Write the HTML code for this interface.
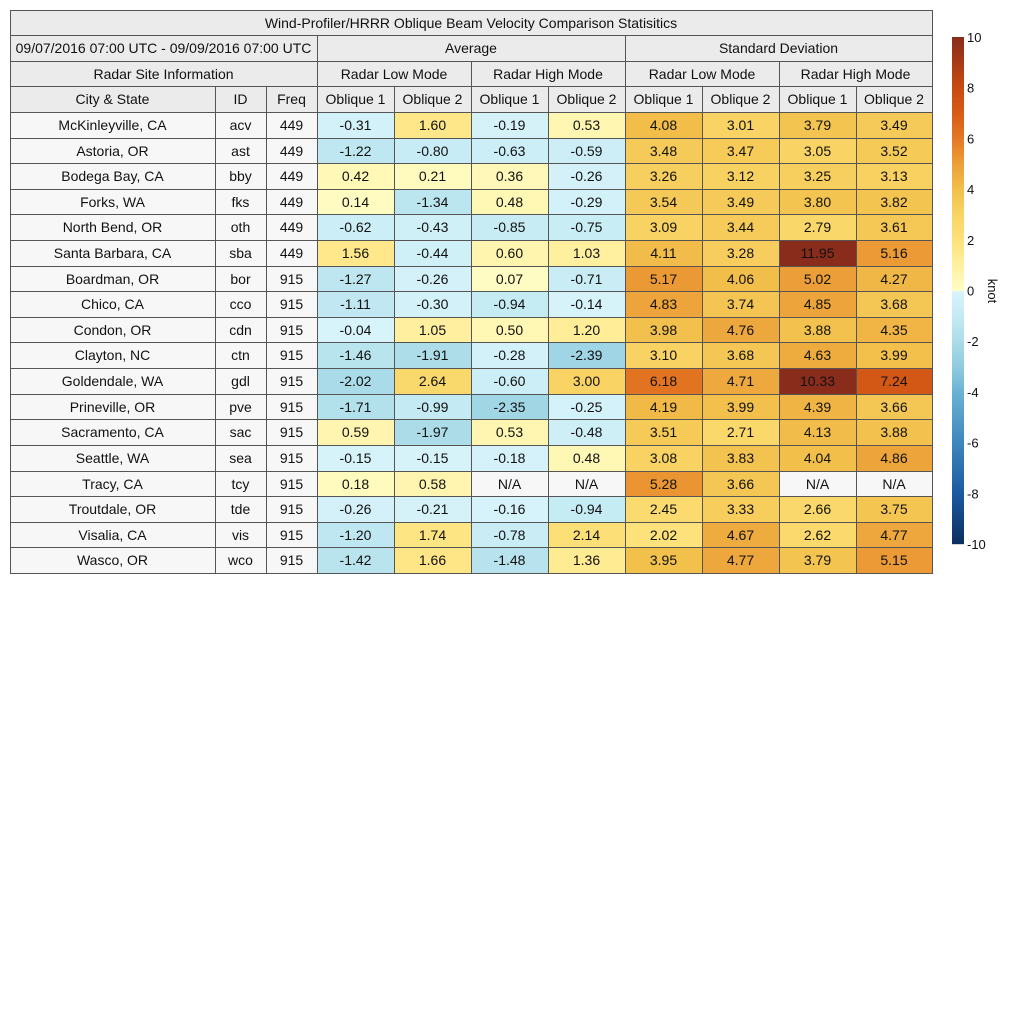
<!DOCTYPE html>
<html><head><meta charset="utf-8"><style>
body{margin:0;width:1024px;height:1024px;background:#fff;font-family:"Liberation Sans",sans-serif;position:relative;overflow:hidden}
.c{position:absolute;box-sizing:border-box;border:1px solid #555;display:flex;align-items:center;justify-content:center;font-size:14px;color:#111;margin:-0.5px 0 0 -0.5px}
.t{position:absolute;font-size:14px;color:#111}
</style></head><body>
<div id="root"></div>
<script>
const xs=[10,215,266,317,394,471,548,625,702,779,856,932];
const root=document.getElementById('root');
function cell(x0,x1,y0,y1,txt,bg){const d=document.createElement('div');d.className='c';d.style.left=x0+'px';d.style.top=y0+'px';d.style.width=(x1-x0+1)+'px';d.style.height=(y1-y0+1)+'px';d.style.background=bg;d.textContent=txt;root.appendChild(d);}
const H='#ebebeb';
cell(10,932,10,35,'Wind-Profiler/HRRR Oblique Beam Velocity Comparison Statisitics',H);
cell(10,317,35,61,'09/07/2016 07:00 UTC - 09/09/2016 07:00 UTC',H);
cell(317,625,35,61,'Average',H);cell(625,932,35,61,'Standard Deviation',H);
cell(10,317,61,86,'Radar Site Information',H);
['Radar Low Mode','Radar High Mode','Radar Low Mode','Radar High Mode'].forEach((s,i)=>cell(xs[3+2*i],xs[5+2*i],61,86,s,H));
['City & State','ID','Freq','Oblique 1','Oblique 2','Oblique 1','Oblique 2','Oblique 1','Oblique 2','Oblique 1','Oblique 2'].forEach((s,i)=>cell(xs[i],xs[i+1],86,112,s,H));
const data=[
['McKinleyville, CA','acv',449,-0.31,1.60,-0.19,0.53,4.08,3.01,3.79,3.49],
['Astoria, OR','ast',449,-1.22,-0.80,-0.63,-0.59,3.48,3.47,3.05,3.52],
['Bodega Bay, CA','bby',449,0.42,0.21,0.36,-0.26,3.26,3.12,3.25,3.13],
['Forks, WA','fks',449,0.14,-1.34,0.48,-0.29,3.54,3.49,3.80,3.82],
['North Bend, OR','oth',449,-0.62,-0.43,-0.85,-0.75,3.09,3.44,2.79,3.61],
['Santa Barbara, CA','sba',449,1.56,-0.44,0.60,1.03,4.11,3.28,11.95,5.16],
['Boardman, OR','bor',915,-1.27,-0.26,0.07,-0.71,5.17,4.06,5.02,4.27],
['Chico, CA','cco',915,-1.11,-0.30,-0.94,-0.14,4.83,3.74,4.85,3.68],
['Condon, OR','cdn',915,-0.04,1.05,0.50,1.20,3.98,4.76,3.88,4.35],
['Clayton, NC','ctn',915,-1.46,-1.91,-0.28,-2.39,3.10,3.68,4.63,3.99],
['Goldendale, WA','gdl',915,-2.02,2.64,-0.60,3.00,6.18,4.71,10.33,7.24],
['Prineville, OR','pve',915,-1.71,-0.99,-2.35,-0.25,4.19,3.99,4.39,3.66],
['Sacramento, CA','sac',915,0.59,-1.97,0.53,-0.48,3.51,2.71,4.13,3.88],
['Seattle, WA','sea',915,-0.15,-0.15,-0.18,0.48,3.08,3.83,4.04,4.86],
['Tracy, CA','tcy',915,0.18,0.58,null,null,5.28,3.66,null,null],
['Troutdale, OR','tde',915,-0.26,-0.21,-0.16,-0.94,2.45,3.33,2.66,3.75],
['Visalia, CA','vis',915,-1.20,1.74,-0.78,2.14,2.02,4.67,2.62,4.77],
['Wasco, OR','wco',915,-1.42,1.66,-1.48,1.36,3.95,4.77,3.79,5.15]];
const pos=[[0,[255,253,198]],[1,[255,240,160]],[2,[253,225,122]],[3,[249,212,100]],[4,[242,192,75]],[5,[236,160,56]],[6,[229,120,36]],[7,[214,92,22]],[8,[200,76,18]],[9,[168,58,22]],[10,[138,44,28]]];
const neg=[[0,[217,244,251]],[1,[196,234,243]],[2,[170,220,232]],[3,[143,203,222]],[4,[106,178,212]],[6,[61,134,189]],[8,[26,90,160]],[10,[11,46,94]]];
function col(v){if(v===null)return '#f7f7f7';const s=v<0?neg:pos;let a=Math.min(Math.abs(v),10);for(let i=0;i<s.length-1;i++){if(a<=s[i+1][0]){const f=(a-s[i][0])/(s[i+1][0]-s[i][0]);const c=s[i][1].map((q,k)=>Math.round(q+f*(s[i+1][1][k]-q)));return `rgb(${c})`;}}return `rgb(${s[s.length-1][1]})`;}
data.forEach((r,j)=>{const y0=Math.round(112+j*25.61),y1=Math.round(112+(j+1)*25.61);
 r.forEach((v,i)=>{let txt,bg;if(i<3){txt=String(v);bg='#f7f7f7';}else{txt=v===null?'N/A':v.toFixed(2);bg=col(v);}cell(xs[i],xs[i+1],y0,y1,txt,bg);});});
// colorbar
const svgNS='http://www.w3.org/2000/svg';
let g='<svg xmlns="http://www.w3.org/2000/svg" width="1024" height="1024" style="position:absolute;left:0;top:0;pointer-events:none">';
for(let y=37;y<544;y++){const v=10-20*(y-37)/507;g+=`<rect x="952" y="${y}" width="12" height="1.2" fill="${col(v)}"/>`;}
for(let v=10;v>=-10;v-=2){const y=37+(10-v)/20*507;g+=`<text x="967" y="${y+5}" font-size="13" font-family="Liberation Sans" fill="#111">${v}</text>`;}
g+='<text x="988" y="291" font-size="13" font-family="Liberation Sans" fill="#111" transform="rotate(90 988 291)" text-anchor="middle">knot</text></svg>';
root.insertAdjacentHTML('beforeend',g);
</script>
</body></html>
